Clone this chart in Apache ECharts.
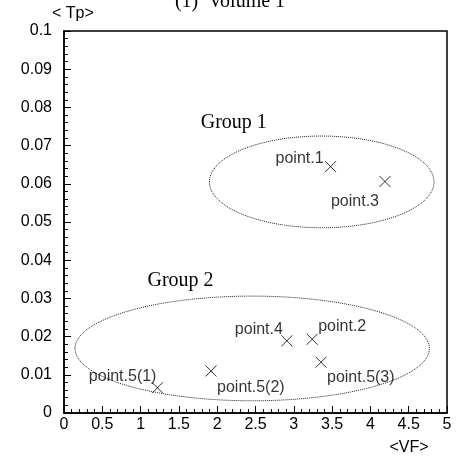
<!DOCTYPE html>
<html>
<head>
<meta charset="utf-8">
<script src="https://cdn.jsdelivr.net/npm/echarts@6/dist/echarts.min.js"></script>
<style>
  html, body { margin: 0; padding: 0; background: #fff; }
  #chart { width: 460px; height: 459px; }
</style>
</head>
<body>
<div id="chart"></div>
<script>
// Measured points: <VF> on x, <Tp> on y
const pointNames = ['point.1', 'point.2', 'point.3', 'point.4', 'point.5(1)', 'point.5(2)', 'point.5(3)'];
const vfValues   = [3.48, 3.24, 4.19, 2.91, 1.22, 1.92, 3.355];
const tpValues   = [0.0645, 0.0193, 0.0606, 0.0189, 0.0066, 0.011, 0.0133];

// Groups: name, ellipse centre (vf, tp), semi-axes (vf, tp), label anchor (vf, tp)
const groupNames   = ['Group 1', 'Group 2'];
const groupCenterX = [3.364, 2.457];
const groupCenterY = [0.0605, 0.0169];
const groupRadiusX = [1.466, 2.313];
const groupRadiusY = [0.0120, 0.0137];
const groupLabelX  = [1.785, 1.09];
const groupLabelY  = [0.076, 0.0345];

// Axis ticks
const xTicks = [0, 0.5, 1, 1.5, 2, 2.5, 3, 3.5, 4, 4.5, 5];
const yTicks = [0, 0.01, 0.02, 0.03, 0.04, 0.05, 0.06, 0.07, 0.08, 0.09, 0.1];

// Label placement around each cross: [align, dx, dy]
const labelPlacement = {
  'point.1':    ['right', -7, -8],
  'point.2':    ['left', 6, -13],
  'point.3':    ['center', -30, 20],
  'point.4':    ['right', -4, -11],
  'point.5(1)': ['right', -1, -11],
  'point.5(2)': ['left', 6, 17],
  'point.5(3)': ['left', 6, 15]
};

const sans = 'Liberation Sans, Arial, sans-serif';
const serif = 'Liberation Serif, Times New Roman, serif';

const scatterData = pointNames.map((n, i) => {
  const p = labelPlacement[n];
  return {
    name: n,
    value: [vfValues[i], tpValues[i]],
    label: { align: p[0], offset: [p[1], p[2]] }
  };
});

const groupData = groupNames.map((n, i) => [groupCenterX[i], groupCenterY[i], groupRadiusX[i], groupRadiusY[i], groupLabelX[i], groupLabelY[i], i]);

const chart = echarts.init(document.getElementById('chart'), null, { renderer: 'canvas' });

chart.setOption({
  animation: false,
  backgroundColor: '#fff',
  grid: {
    left: 64, right: 13, top: 31, bottom: 46,
    show: true, borderColor: '#000', borderWidth: 1.5, backgroundColor: 'transparent'
  },
  graphic: [
    { type: 'text', left: 'center', top: -8, style: { text: '(1)  Volume 1', font: '20px ' + serif, fill: '#000' } },
    { type: 'text', style: { x: 52, y: 14, text: '< Tp>', font: '16px ' + sans, fill: '#000', textVerticalAlign: 'middle' } },
    { type: 'text', style: { x: 409, y: 448, text: '<VF>', font: '16px ' + sans, fill: '#000', textAlign: 'center', textVerticalAlign: 'middle' } }
  ],
  xAxis: {
    type: 'value', min: xTicks[0], max: xTicks[xTicks.length - 1], interval: 0.5,
    axisLine: { show: true, onZero: false, lineStyle: { color: '#000', width: 1.5 } },
    axisTick: { show: true, inside: true, length: 7, lineStyle: { color: '#000' } },
    minorTick: { show: true, splitNumber: 5, length: 4, lineStyle: { color: '#000' } },
    splitLine: { show: false },
    axisLabel: {
      color: '#000', fontFamily: sans, fontSize: 16, margin: 4,
      formatter: v => String(+v.toFixed(2))
    }
  },
  yAxis: {
    type: 'value', min: yTicks[0], max: yTicks[yTicks.length - 1], interval: 0.01,
    axisLine: { show: true, onZero: false, lineStyle: { color: '#000', width: 1.5 } },
    axisTick: { show: true, inside: true, length: 7, lineStyle: { color: '#000' } },
    minorTick: { show: true, splitNumber: 5, length: 4, lineStyle: { color: '#000' } },
    splitLine: { show: false },
    axisLabel: {
      color: '#000', fontFamily: sans, fontSize: 16, margin: 12,
      formatter: v => String(+v.toFixed(3))
    }
  },
  series: [
    {
      type: 'custom',
      data: groupData,
      silent: true,
      renderItem: (params, api) => {
        const c = api.coord([api.value(0), api.value(1)]);
        const s = api.size([api.value(2), api.value(3)]);
        const l = api.coord([api.value(4), api.value(5)]);
        return {
          type: 'group',
          children: [
            {
              type: 'ellipse',
              shape: { cx: c[0], cy: c[1], rx: s[0], ry: s[1] },
              style: { fill: 'none', stroke: '#222', lineWidth: 1, lineDash: [1, 1] }
            },
            {
              type: 'text',
              style: {
                x: l[0], y: l[1], text: groupNames[api.value(6)],
                font: '20px ' + serif, fill: '#000', textVerticalAlign: 'middle'
              }
            }
          ]
        };
      }
    },
    {
      type: 'scatter',
      data: scatterData,
      symbol: 'path://M0,0L10,10M10,0L0,10',
      symbolSize: 11,
      itemStyle: { color: 'none', borderColor: '#000', borderWidth: 1 },
      label: {
        show: true, position: 'inside',
        formatter: p => p.name,
        color: '#000', fontFamily: sans, fontSize: 16, verticalAlign: 'middle'
      },
      z: 5
    }
  ]
});
</script>
</body>
</html>
